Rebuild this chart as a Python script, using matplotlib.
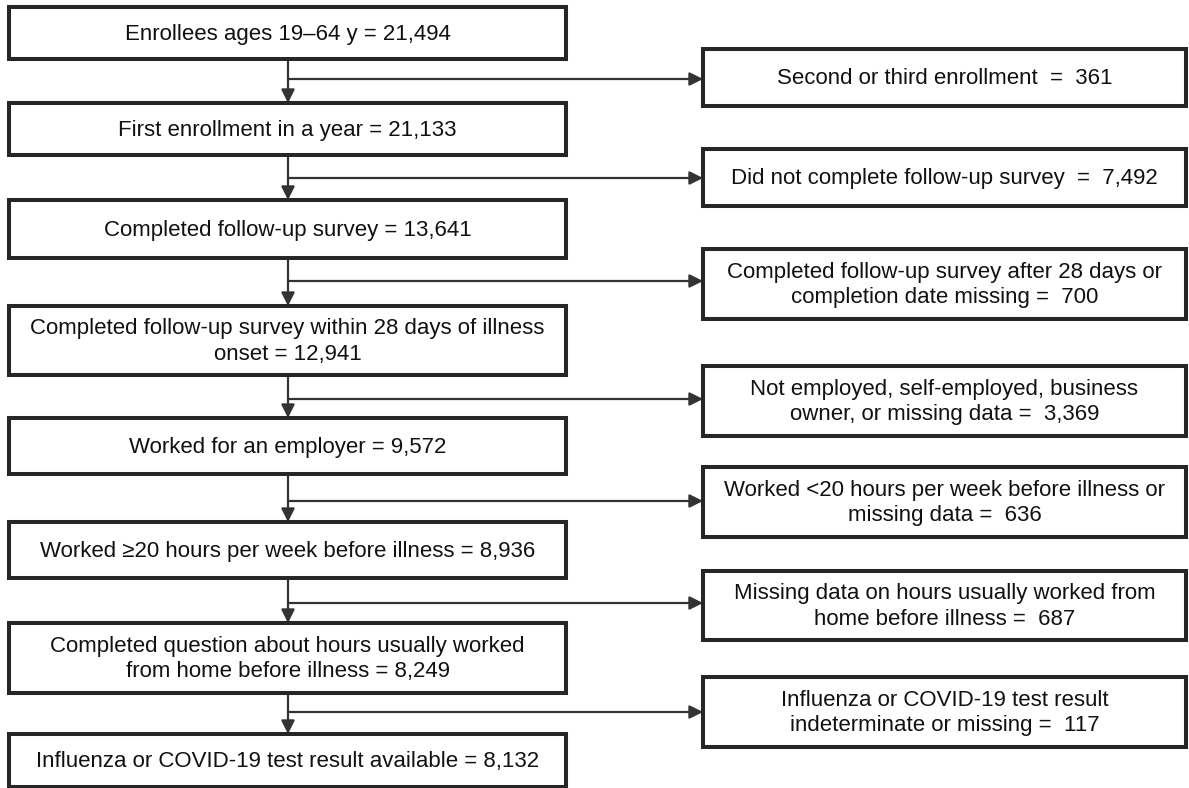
import matplotlib.pyplot as plt
from matplotlib.patches import Rectangle, FancyArrowPatch

# -----------------------
# Data
# -----------------------
main_labels = [
    "Enrollees ages 19\u201364 y",
    "First enrollment in a year",
    "Completed follow-up survey",
    "Completed follow-up survey within 28 days of illness\nonset",
    "Worked for an employer",
    "Worked \u226520 hours per week before illness",
    "Completed question about hours usually worked\nfrom home before illness",
    "Influenza or COVID-19 test result available",
]
main_counts = [21494, 21133, 13641, 12941, 9572, 8936, 8249, 8132]

excl_labels = [
    "Second or third enrollment ",
    "Did not complete follow-up survey ",
    "Completed follow-up survey after 28 days or\ncompletion date missing",
    "Not employed, self-employed, business\nowner, or missing data",
    "Worked <20 hours per week before illness or\nmissing data",
    "Missing data on hours usually worked from\nhome before illness",
    "Influenza or COVID-19 test result\nindeterminate or missing",
]
excl_counts = [361, 7492, 700, 3369, 636, 687, 117]

# -----------------------
# Layout (pixels, y down)
# -----------------------
W, H = 1189, 788
LEFT_X0, LEFT_X1 = 9, 566
RIGHT_X0, RIGHT_X1 = 703, 1186
STEM_X = 288
main_y = [(7, 59), (103, 155), (200, 258), (306, 375),
          (418, 474), (522, 578), (623, 693), (734, 787)]
excl_y = [(49, 106), (149, 206), (249, 319), (366, 436),
          (467, 537), (571, 640), (677, 747)]
branch_y = [79, 178, 281, 399, 501, 603, 712]

EDGE = "#262626"
LINE = "#333333"

plt.rcParams["font.family"] = ["Liberation Sans", "DejaVu Sans"]

fig = plt.figure(figsize=(W / 100, H / 100), dpi=100)
ax = fig.add_axes([0, 0, 1, 1])
ax.set_xlim(0, W)
ax.set_ylim(H, 0)
ax.axis("off")


def box(x0, x1, y0, y1, text):
    ax.add_patch(Rectangle((x0, y0), x1 - x0, y1 - y0, facecolor="white",
                           edgecolor=EDGE, linewidth=2.9, zorder=2))
    ax.text((x0 + x1) / 2, (y0 + y1) / 2 + 1, text, ha="center", va="center",
            fontsize=16, color="#111111", linespacing=1.3, zorder=3)


def arrow(p0, p1):
    ax.add_patch(FancyArrowPatch(p0, p1, arrowstyle="-|>", mutation_scale=20,
                                 color=LINE, linewidth=1.6, shrinkA=0,
                                 shrinkB=0, zorder=1))


for lab, n, (y0, y1) in zip(main_labels, main_counts, main_y):
    box(LEFT_X0, LEFT_X1, y0, y1, f"{lab} = {n:,}")

for lab, n, (y0, y1) in zip(excl_labels, excl_counts, excl_y):
    box(RIGHT_X0, RIGHT_X1, y0, y1, f"{lab} =  {n:,}")

# Main flow arrows
for i in range(len(main_y) - 1):
    arrow((STEM_X, main_y[i][1]), (STEM_X, main_y[i + 1][0]))

# Exclusion branches
for by in branch_y:
    arrow((STEM_X, by), (RIGHT_X0, by))

fig.savefig("out.png", dpi=100, facecolor="white")
